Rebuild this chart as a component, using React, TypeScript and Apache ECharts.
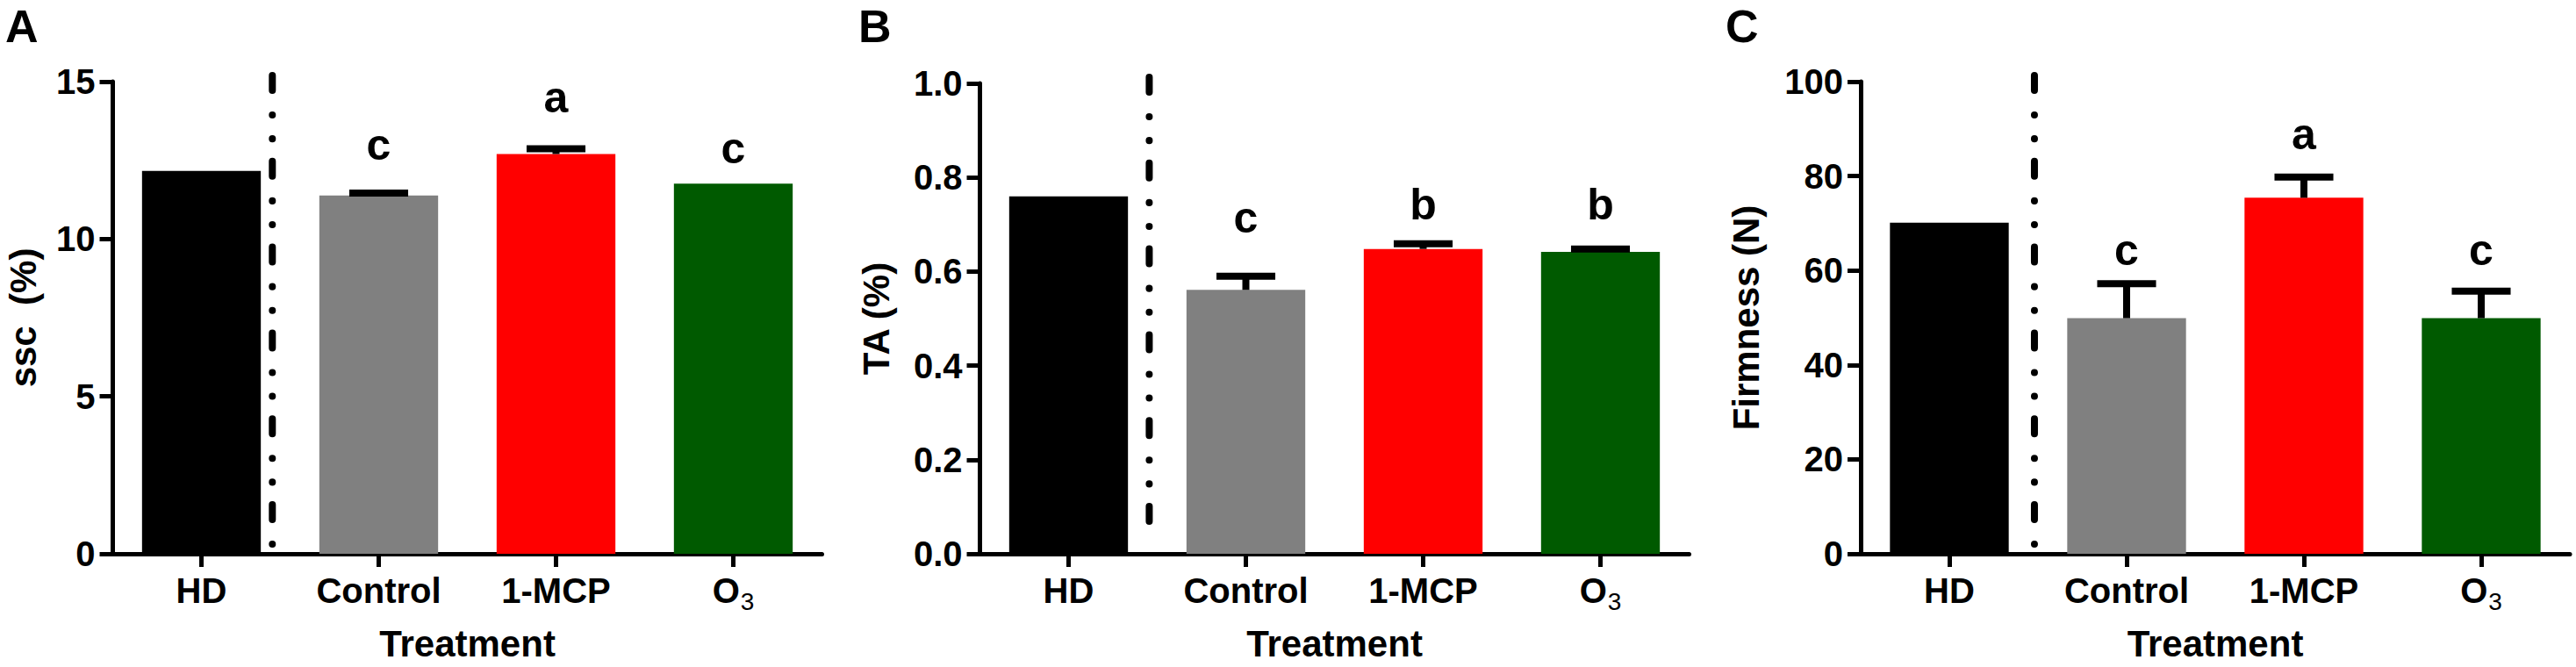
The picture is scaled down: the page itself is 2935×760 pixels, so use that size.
import React, { useEffect, useRef } from "react";
import * as echarts from "echarts";

// ---------- data ----------
const categories = ["HD", "Control", "1-MCP", "O3"];
const barColors = ["#000000", "#808080", "#FF0000", "#005A00"];

const sscMean = [12.16, 11.38, 12.7, 11.76];
const sscErr = [0, 0.08, 0.17, 0];
const sscLetters = ["", "c", "a", "c"];
const sscLetterAt = [0, 12.98, 14.51, 12.87];

const taMean = [0.76, 0.561, 0.648, 0.642];
const taErr = [0, 0.029, 0.011, 0.006];
const taLetters = ["", "c", "b", "b"];
const taLetterAt = [0, 0.715, 0.742, 0.742];

const firmMean = [70.1, 49.9, 75.4, 49.9];
const firmErr = [0, 7.3, 4.4, 5.7];
const firmLetters = ["", "c", "a", "c"];
const firmLetterAt = [0, 64.3, 88.9, 64.3];

const panelNames = ["A", "B", "C"];
const yTitles = ["ssc  (%)", "TA (%)", "Firmness (N)"];
const yMax = [15, 1, 100];
const yInterval = [5, 0.2, 20];
const yDecimals = [0, 1, 0];
const xTitle = "Treatment";
// separator position between HD and Control, in category units from HD
const sepAt = [0.4, 0.455, 0.48];

const FONT = '"Liberation Sans", Arial, Helvetica, sans-serif';

export default function App() {
  const ref = useRef<HTMLDivElement>(null);

  useEffect(() => {
    if (!ref.current) return;
    const chart = echarts.init(ref.current, undefined, { renderer: "svg" });

    const means = [sscMean, taMean, firmMean];
    const errs = [sscErr, taErr, firmErr];
    const letters = [sscLetters, taLetters, firmLetters];
    const letterAt = [sscLetterAt, taLetterAt, firmLetterAt];

    const grids = [
      { left: 128.5, top: 93, width: 808, height: 539 },
      { left: 1116.5, top: 95, width: 808, height: 541 },
      { left: 2120, top: 93, width: 808, height: 539 },
    ];
    const nameGaps = [80, 96, 109];
    const panelLabelX = [6, 978, 1966];

    const xAxes: any[] = [];
    const yAxes: any[] = [];
    const series: any[] = [];

    for (let p = 0; p < 3; p++) {
      xAxes.push({
        type: "category",
        gridIndex: p,
        data: categories,
        name: xTitle,
        nameLocation: "middle",
        nameGap: 80,
        nameTextStyle: {
          fontSize: 42,
          fontWeight: "bold",
          fontFamily: FONT,
          color: "#000",
          lineHeight: 44,
        },
        axisLine: { show: true, lineStyle: { color: "#000", width: 5 } },
        axisTick: {
          show: true,
          alignWithLabel: true,
          length: 15,
          lineStyle: { color: "#000", width: 5 },
        },
        axisLabel: {
          margin: 22,
          formatter: (v: string) =>
            v === "O3" ? "{m|O}{s|3}" : "{m|" + v + "}",
          rich: {
            m: {
              fontSize: 40,
              fontWeight: "bold",
              fontFamily: FONT,
              color: "#000",
              lineHeight: 40,
              verticalAlign: "top",
            },
            s: {
              fontSize: 28,
              fontWeight: "normal",
              fontFamily: FONT,
              color: "#000",
              lineHeight: 28,
              padding: [18, 0, 0, 1],
              verticalAlign: "top",
            },
          },
        },
        splitLine: { show: false },
      });
      yAxes.push({
        type: "value",
        gridIndex: p,
        min: 0,
        max: yMax[p],
        interval: yInterval[p],
        name: yTitles[p],
        nameLocation: "middle",
        nameRotate: 90,
        nameGap: nameGaps[p],
        nameTextStyle: {
          fontSize: 42,
          fontWeight: "bold",
          fontFamily: FONT,
          color: "#000",
          lineHeight: 44,
        },
        axisLine: { show: true, lineStyle: { color: "#000", width: 5 } },
        axisTick: {
          show: true,
          length: 15,
          lineStyle: { color: "#000", width: 5 },
        },
        axisLabel: {
          margin: 20,
          fontSize: 40,
          fontWeight: "bold",
          fontFamily: FONT,
          color: "#000",
          formatter: (v: number) => v.toFixed(yDecimals[p]),
        },
        splitLine: { show: false },
      });

      series.push({
        type: "bar",
        xAxisIndex: p,
        yAxisIndex: p,
        barWidth: "67%",
        data: means[p].map((v, i) => ({
          value: v,
          itemStyle: { color: barColors[i] },
        })),
      });

      const pm = p;
      series.push({
        type: "custom",
        xAxisIndex: p,
        yAxisIndex: p,
        clip: false,
        z: 5,
        data: means[p].map((v, i) => [i, v, errs[p][i]]),
        renderItem: (params: any, api: any) => {
          const i = api.value(0);
          const mean = api.value(1);
          const err = api.value(2);
          const base = api.coord([i, mean]);
          const top = api.coord([i, mean + err]);
          const bw = api.size([1, 0])[0];
          const half = bw * 0.166;
          const children: any[] = [];
          if (err > 0) {
            children.push({
              type: "line",
              shape: { x1: base[0], y1: base[1], x2: top[0], y2: top[1] },
              style: { stroke: "#000", lineWidth: 8 },
            });
            children.push({
              type: "line",
              shape: {
                x1: top[0] - half,
                y1: top[1],
                x2: top[0] + half,
                y2: top[1],
              },
              style: { stroke: "#000", lineWidth: 8 },
            });
          }
          const L = letters[pm][params.dataIndex];
          if (L) {
            const lp = api.coord([i, letterAt[pm][params.dataIndex]]);
            children.push({
              type: "text",
              x: lp[0],
              y: lp[1],
              style: {
                text: L,
                fill: "#000",
                font: "bold 50px " + FONT,
                textAlign: "center",
                textVerticalAlign: "middle",
                align: "center",
                verticalAlign: "middle",
              },
            });
          }
          return { type: "group", children };
        },
      });

      series.push({
        type: "custom",
        xAxisIndex: p,
        yAxisIndex: p,
        clip: false,
        z: 6,
        data: [[0, 0]],
        renderItem: (params: any, api: any) => {
          const c0 = api.coord([0, yMax[pm]]);
          const c1 = api.coord([1, 0]);
          const x = c0[0] + sepAt[pm] * (c1[0] - c0[0]);
          const zero = api.coord([0, 0])[1];
          return {
            type: "line",
            shape: { x1: x, y1: c0[1] - 7, x2: x, y2: zero - 11 },
            style: {
              stroke: "#000",
              lineWidth: 8,
              lineCap: "round",
              lineDash: [17, 28, 0.1, 27, 0.1, 25.6],
            },
          };
        },
      });
    }

    chart.setOption({
      animation: false,
      backgroundColor: "#ffffff",
      grid: grids,
      xAxis: xAxes,
      yAxis: yAxes,
      series,
      graphic: panelNames.map((n, i) => ({
        type: "text",
        left: panelLabelX[i],
        top: 4,
        style: {
          text: n,
          font: "bold 52px " + FONT,
          lineHeight: 46,
          fill: "#000",
        },
      })),
    });

    return () => chart.dispose();
  }, []);

  return (
    <div
      ref={ref}
      style={{
        position: "absolute",
        left: 0,
        top: 0,
        width: 2935,
        height: 760,
        background: "#fff",
      }}
    />
  );
}
